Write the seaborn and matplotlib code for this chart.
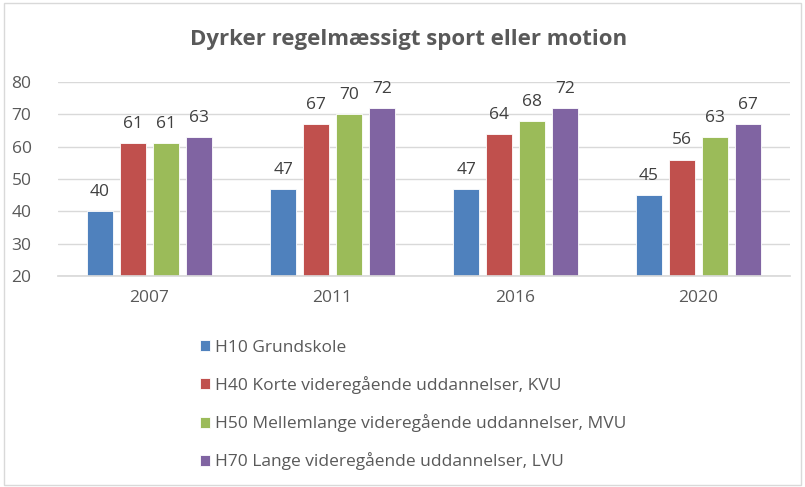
import pandas as pd
import matplotlib.pyplot as plt
import seaborn as sns
from matplotlib.patches import Rectangle

# --- DATA ---
YEARS = ["2007", "2011", "2016", "2020"]
GROUPS = [
    "H10 Grundskole",
    "H40 Korte videregående uddannelser, KVU",
    "H50 Mellemlange videregående uddannelser, MVU",
    "H70 Lange videregående uddannelser, LVU",
]
H10 = [40, 47, 47, 45]
H40 = [61, 67, 64, 56]
H50 = [61, 70, 68, 63]
H70 = [63, 72, 72, 67]
COLORS = ["#4F81BD", "#C0504D", "#9BBB59", "#8064A2"]
TEXT = "#595959"

sns.set_theme(style="white")
plt.rcParams['font.family'] = ['Open Sans', 'DejaVu Sans']

rows = []
for g, vals in zip(GROUPS, [H10, H40, H50, H70]):
    for y, v in zip(YEARS, vals):
        rows.append({"year": y, "group": g, "value": v})
df = pd.DataFrame(rows)

fig = plt.figure(figsize=(8.05, 4.87), dpi=100)
ax = fig.add_axes([58 / 805, 1 - 276 / 487, 732 / 805, 194 / 487])

sns.barplot(data=df, x="year", y="value", hue="group", palette=COLORS, saturation=1,
            width=0.72, gap=0.2, ax=ax, legend=True,
            edgecolor="white", linewidth=0.6)

for c in ax.containers:
    ax.bar_label(c, fmt="%d", padding=8, fontsize=12.5, color="#404040")

ax.set_ylim(20, 80)
ax.set_yticks(range(20, 81, 10))
ax.yaxis.grid(True, color="#D9D9D9", linewidth=1)
ax.set_axisbelow(True)
for s in ["top", "right", "left"]:
    ax.spines[s].set_visible(False)
ax.spines["bottom"].set_color("#D9D9D9")
ax.tick_params(axis="both", length=0, labelsize=12.5, labelcolor=TEXT)
ax.tick_params(axis="x", pad=10)
ax.tick_params(axis="y", pad=19)
ax.set_xlabel("")
ax.set_ylabel("")

handles, labels = ax.get_legend_handles_labels()
ax.get_legend().remove()
fig.legend(handles, labels, loc="upper left", bbox_to_anchor=(184 / 805, 1 - 324 / 487),
           frameon=False, fontsize=12.5, labelcolor=TEXT, handlelength=0.6,
           handleheight=0.6, handletextpad=0.3, labelspacing=1.17)

fig.text(409 / 805, 1 - 40 / 487, "Dyrker regelmæssigt sport eller motion", ha="center", va="center",
         fontsize=16, fontweight="bold", color=TEXT)

fig.patches.append(Rectangle((4 / 805, 2 / 487), 797 / 805, 482 / 487, transform=fig.transFigure,
                             fill=False, edgecolor="#D9D9D9", linewidth=1))

fig.savefig("out.png", dpi=100)
